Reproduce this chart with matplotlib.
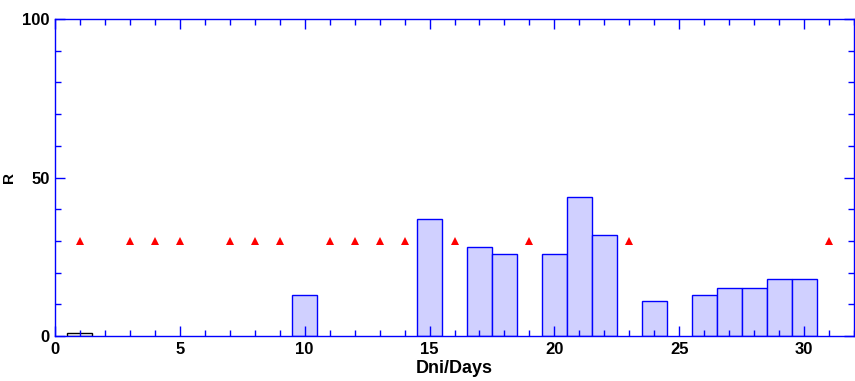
import matplotlib.pyplot as plt
from matplotlib.ticker import MultipleLocator

plt.rcParams['font.family'] = ['Liberation Sans', 'DejaVu Sans']

# bar data
days = [10, 15, 17, 18, 20, 21, 22, 24, 26, 27, 28, 29, 30]
r_values = [13, 37, 28, 26, 26, 44, 32, 11, 13, 15, 15, 18, 18]

# first day, drawn as an empty box
first_day = [1]
first_value = [1]

# triangle markers
mark_days = [1, 3, 4, 5, 7, 8, 9, 11, 12, 13, 14, 16, 19, 23, 31]
mark_values = [30] * len(mark_days)

fig = plt.figure(figsize=(8.55, 3.81), dpi=100)
ax = fig.add_axes([55 / 855, 45 / 381, 799 / 855, 317 / 381])

ax.bar(first_day, first_value, width=1.0, color='white', edgecolor='black', linewidth=1)
ax.bar(days, r_values, width=1.0, color='#d0d0ff', edgecolor='blue', linewidth=1)
ax.plot(mark_days, mark_values, linestyle='none', marker='^', color='red',
        markersize=6, markeredgewidth=0)

ax.set_xlim(0, 32)
ax.set_ylim(0, 100)
ax.xaxis.set_major_locator(MultipleLocator(5))
ax.xaxis.set_minor_locator(MultipleLocator(1))
ax.yaxis.set_major_locator(MultipleLocator(50))
ax.yaxis.set_minor_locator(MultipleLocator(10))

for s in ax.spines.values():
    s.set_color('blue')
    s.set_linewidth(1)

ax.tick_params(which='both', direction='in', top=True, right=True, color='blue',
               labelsize=12, width=1)
ax.tick_params(which='major', length=7, pad=4)
ax.tick_params(which='minor', length=4)
for lab in ax.get_xticklabels() + ax.get_yticklabels():
    lab.set_fontweight('bold')

ax.set_xlabel('Dni/Days', fontsize=13, fontweight='bold')
ax.xaxis.set_label_coords(0.5, -24 / 317)
ax.set_ylabel('R', fontsize=11, fontweight='bold')
ax.yaxis.set_label_coords(-39 / 799, 0.5)

fig.savefig('out.png', dpi=100)
